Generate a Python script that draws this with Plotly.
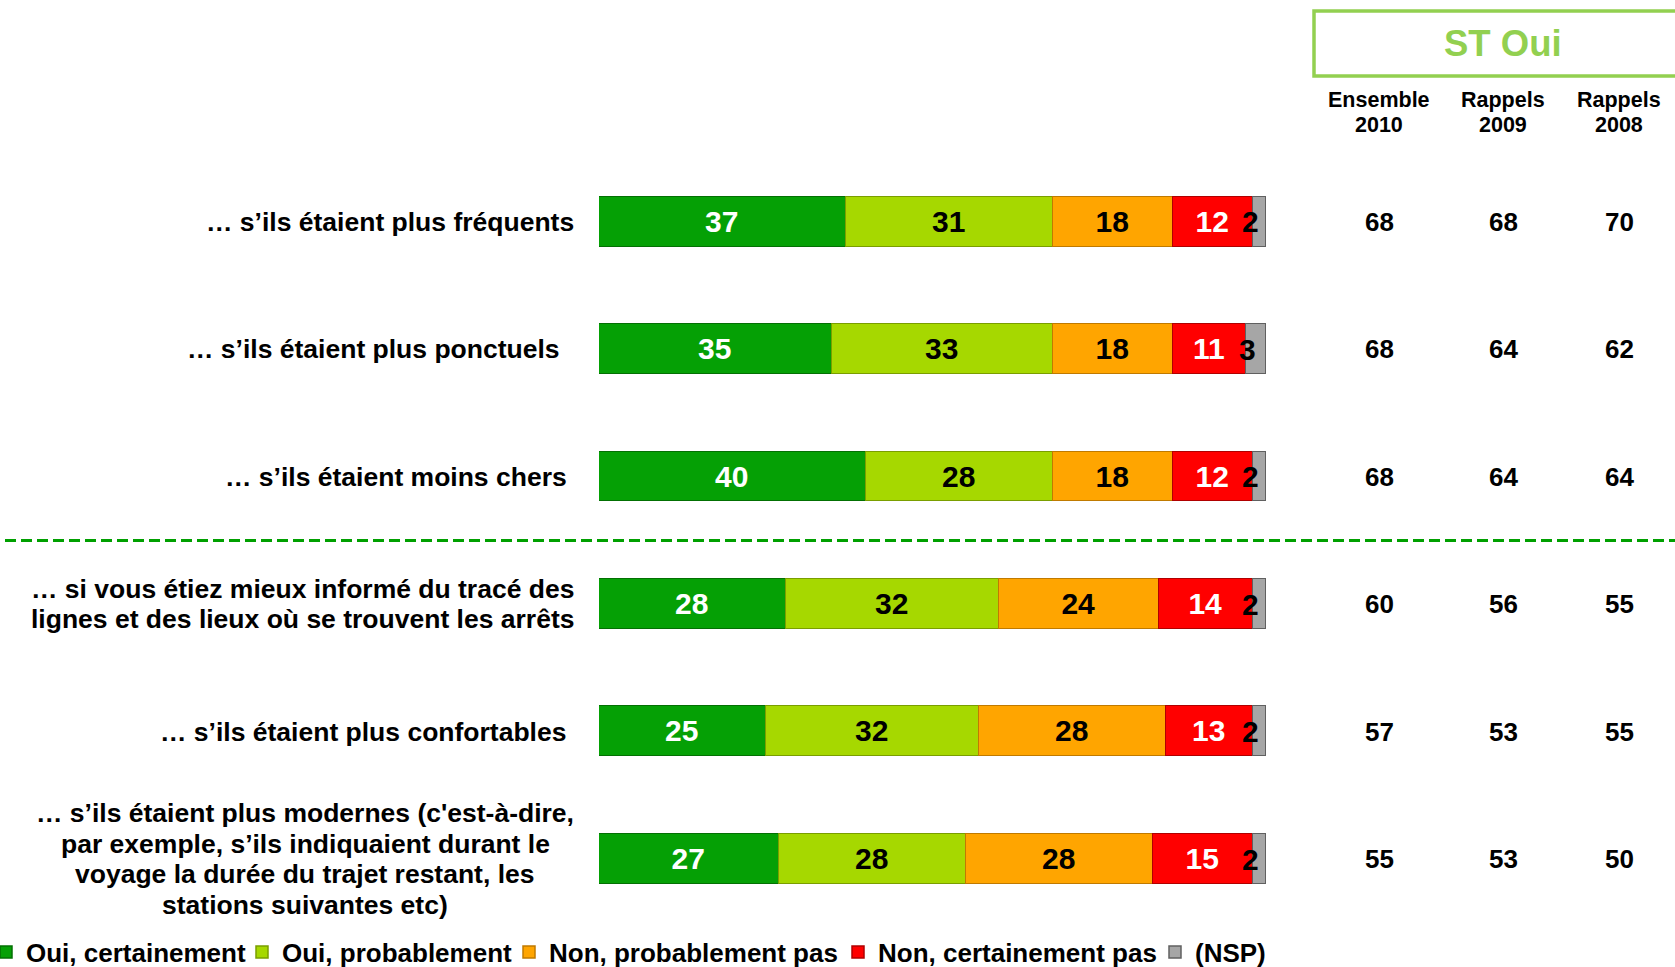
import plotly.graph_objects as go

# ---------------- data ----------------
categories = [
    "… s’ils étaient plus fréquents",
    "… s’ils étaient plus ponctuels",
    "… s’ils étaient moins chers",
    "… si vous étiez mieux informé du tracé des<br>lignes et des lieux où se trouvent les arrêts",
    "… s’ils étaient plus confortables",
    "… s’ils étaient plus modernes (c'est-à-dire,<br>par exemple, s’ils indiquaient durant le<br>voyage la durée du trajet restant, les<br>stations suivantes etc)",
]
series_names = ["Oui, certainement", "Oui, probablement", "Non, probablement pas",
                "Non, certainement pas", "(NSP)"]
oui_certainement = [37, 35, 40, 28, 25, 27]
oui_probablement = [31, 33, 28, 32, 32, 28]
non_probablement = [18, 18, 18, 24, 28, 28]
non_certainement = [12, 11, 12, 14, 13, 15]
nsp = [2, 3, 2, 2, 2, 2]

st_oui_2010 = [68, 68, 68, 60, 57, 55]
st_oui_2009 = [68, 64, 64, 56, 53, 53]
st_oui_2008 = [70, 62, 64, 55, 55, 50]
column_headers = ["Ensemble<br>2010", "Rappels<br>2009", "Rappels<br>2008"]
box_title = "ST Oui"

# ---------------- styling ----------------
W, H = 1675, 967
FONT = "Liberation Sans, Arial, sans-serif"
colors = ["#05A005", "#A6D800", "#FFA500", "#FF0000", "#A6A6A6"]
edge_colors = ["#037003", "#7A9E00", "#C07A00", "#B00000", "#606060"]
text_colors = ["white", "black", "black", "white", "black"]
legend_widths = [225, 236, 298, 286, 95]

rows = list(range(len(categories)))
series = [oui_certainement, oui_probablement, non_probablement, non_certainement, nsp]

fig = go.Figure()
for i, (name, vals) in enumerate(zip(series_names, series)):
    show_text = i < 4
    fig.add_trace(go.Bar(
        y=rows, x=vals, name=name, orientation="h",
        marker=dict(color=colors[i], line=dict(color=edge_colors[i], width=1.5)),
        width=0.39,
        text=[str(v) for v in vals] if show_text else None,
        textposition="inside" if show_text else "none",
        insidetextanchor="middle",
        textangle=0,
        constraintext="none",
        textfont=dict(family=FONT, size=30, color=text_colors[i], weight="bold"),
        legendwidth=legend_widths[i],
        hoverinfo="skip",
    ))

annotations = []

# NSP labels (segments too narrow for inside text)
for r, v in zip(rows, nsp):
    annotations.append(dict(
        x=100 - v / 2 - 1.3, y=r, xref="x", yref="y", text=str(v), showarrow=False,
        xanchor="center", yanchor="middle",
        font=dict(family=FONT, size=30, color="black", weight="bold")))

# category labels (line by line)
label_centers = [390, 373, 396, 302, 363, 305]
line_step = 0.24
for r, cat in enumerate(categories):
    lines = cat.split("<br>")
    n = len(lines)
    for k, line in enumerate(lines):
        annotations.append(dict(
            x=label_centers[r] / W, y=r + (k - (n - 1) / 2) * line_step,
            xref="paper", yref="y", text=line, showarrow=False,
            xanchor="center", yanchor="middle",
            font=dict(family=FONT, size=26.5, color="black", weight="bold")))

# right-side ST Oui columns
col_x = [1379 / W, 1503 / W, 1619 / W]
for cx, vals in zip(col_x, [st_oui_2010, st_oui_2009, st_oui_2008]):
    for r, v in zip(rows, vals):
        annotations.append(dict(
            x=cx, y=r, xref="paper", yref="y", text=str(v), showarrow=False,
            xanchor="center", yanchor="middle",
            font=dict(family=FONT, size=26, color="black", weight="bold")))

for cx, hdr in zip(col_x, column_headers):
    for k, line in enumerate(hdr.split("<br>")):
        annotations.append(dict(
            x=cx, y=1 - (100 + 25 * k) / H, xref="paper", yref="paper", text=line,
            showarrow=False, xanchor="center", yanchor="middle",
            font=dict(family=FONT, size=21.5, color="black", weight="bold")))

annotations.append(dict(
    x=1503 / W, y=1 - 44 / H, xref="paper", yref="paper", text=box_title,
    showarrow=False, xanchor="center", yanchor="middle",
    font=dict(family=FONT, size=36.5, color="#92D050", weight="bold")))

shapes = [
    dict(type="rect", xref="paper", yref="paper", x0=1314 / W, x1=1.02,
         y0=1 - 76 / H, y1=1 - 11 / H, line=dict(color="#92D050", width=3.5),
         fillcolor="rgba(0,0,0,0)"),
    dict(type="line", xref="paper", yref="y", x0=5 / W, x1=1.0, y0=2.5, y1=2.5,
         line=dict(color="#00A000", width=3, dash="11px,5px")),
]

fig.update_layout(
    width=W, height=H,
    margin=dict(l=0, r=0, t=0, b=0, autoexpand=False),
    paper_bgcolor="white", plot_bgcolor="white",
    barmode="stack", bargap=0,
    showlegend=True,
    legend=dict(orientation="h", x=0, xanchor="left", y=1 - 952 / H, yanchor="middle",
                font=dict(family=FONT, size=26, color="black", weight="bold"),
                itemwidth=30, traceorder="normal", bgcolor="rgba(0,0,0,0)",
                borderwidth=0, indentation=-14),
    xaxis=dict(range=[0, 100], domain=[599 / W, 1266 / W], visible=False, fixedrange=True),
    yaxis=dict(range=[5.5, -0.5], domain=[44.3 / H, 808.7 / H], visible=False, fixedrange=True),
    annotations=annotations,
    shapes=shapes,
    hovermode=False,
)

fig.write_html("out.html", config={"displayModeBar": False},
               post_script="document.body.style.margin='0';document.body.style.overflow='hidden';")
